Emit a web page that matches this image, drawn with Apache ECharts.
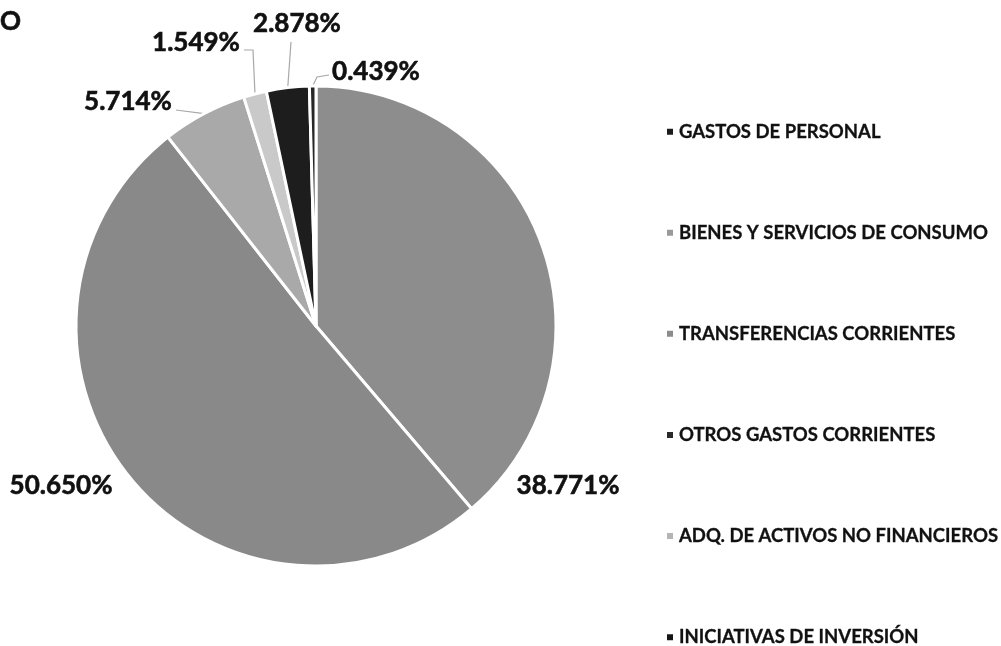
<!DOCTYPE html>
<html>
<head>
<meta charset="utf-8">
<script src="https://cdn.jsdelivr.net/npm/echarts@6/dist/echarts.min.js"></script>
<style>
  html, body { margin: 0; padding: 0; background: #fff; }
  #chart { width: 1001px; height: 646px; }
</style>
</head>
<body>
<div id="chart"></div>
<script>
// Budget shares by expense item (percent of total)
const categories = [
  'GASTOS DE PERSONAL',
  'BIENES Y SERVICIOS DE CONSUMO',
  'TRANSFERENCIAS CORRIENTES',
  'OTROS GASTOS CORRIENTES',
  'ADQ. DE ACTIVOS NO FINANCIEROS',
  'INICIATIVAS DE INVERSIÓN'
];
const shares = [38.771, 50.650, 5.714, 1.549, 2.878, 0.439];

// Slice fills and legend swatches (grey print palette)
const sliceColors = ['#8d8d8d', '#898989', '#a9a9a9', '#c9c9c9', '#1d1d1d', '#262626'];
const swatchColors = ['#1c1c1c', '#9a9a9a', '#8c8c8c', '#2a2a2a', '#b4b4b4', '#151515'];

// Pie geometry
const CENTER = [316, 326];
const RADIUS = 240;

// Label anchors (text centre) and leader-line bends per slice
const labelPos = [
  [568, 486], [61, 486], [128, 102], [196, 43], [297, 24], [376, 72]
];
const leaderBends = [
  null,
  null,
  [[176, 110]],
  [[253, 50], [244, 50]],
  [[291, 42]],
  [[317, 77], [329, 75]]
];

const FONT = 'Lato, "Open Sans", "DejaVu Sans", sans-serif';

// Outer-edge point at the middle of slice i
function edgePoint(i) {
  const total = shares.reduce((a, b) => a + b, 0);
  let before = 0;
  for (let k = 0; k < i; k++) before += shares[k];
  const mid = (before + shares[i] / 2) / total * Math.PI * 2;
  return [CENTER[0] + RADIUS * Math.sin(mid), CENTER[1] - RADIUS * Math.cos(mid)];
}

const pieData = categories.map((name, i) => ({
  name: name,
  value: shares[i],
  itemStyle: { color: sliceColors[i] },
  labelLine: { show: leaderBends[i] !== null }
}));

const chart = echarts.init(document.getElementById('chart'), null, { renderer: 'canvas' });

chart.setOption({
  animation: false,
  backgroundColor: '#ffffff',
  title: {
    text: 'O',
    left: -5,
    top: 4,
    textStyle: {
      fontFamily: FONT, fontWeight: 'bold', fontSize: 26, color: '#111',
      textBorderColor: '#111', textBorderWidth: 0.6
    }
  },
  legend: {
    orient: 'vertical',
    left: 660,
    top: 117,
    height: 560,
    itemWidth: 8,
    itemHeight: 8,
    itemGap: 81.8,
    icon: 'rect',
    data: categories.map((name, i) => ({ name: name, itemStyle: { color: swatchColors[i] } })),
    textStyle: {
      fontFamily: FONT, fontWeight: 'bold', fontSize: 18.5, lineHeight: 19, color: '#111',
      textBorderColor: '#111', textBorderWidth: 0.3
    }
  },
  series: [{
    type: 'pie',
    center: CENTER,
    radius: RADIUS,
    startAngle: 90,
    clockwise: true,
    avoidLabelOverlap: false,
    data: pieData,
    itemStyle: { borderColor: '#ffffff', borderWidth: 3 },
    label: {
      show: true,
      position: 'outside',
      formatter: p => p.value.toFixed(3) + '%',
      fontFamily: FONT,
      fontWeight: 'bold',
      fontSize: 26,
      color: '#111',
      textBorderColor: '#111',
      textBorderWidth: 0.6
    },
    labelLine: {
      show: true,
      length: 10,
      length2: 10,
      lineStyle: { color: '#a8a8a8', width: 1.2 }
    },
    labelLayout: function (params) {
      const i = params.dataIndex;
      const out = {
        x: labelPos[i][0],
        y: labelPos[i][1],
        align: 'center',
        verticalAlign: 'middle'
      };
      if (leaderBends[i]) {
        out.labelLinePoints = [edgePoint(i)].concat(leaderBends[i]);
      }
      return out;
    }
  }]
});
</script>
</body>
</html>
